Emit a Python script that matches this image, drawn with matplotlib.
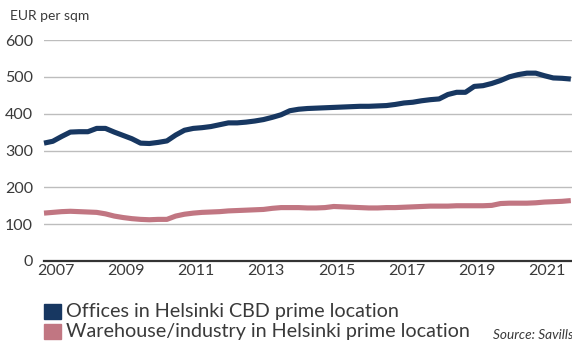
import matplotlib
matplotlib.use("Agg")
import matplotlib.pyplot as plt
from matplotlib.patches import Rectangle

# ---- data (quarterly, 2007 Q1 .. 2022 Q1) ----
offices = [320, 325, 338, 350, 351, 351, 360, 360, 350, 341, 332, 320, 319, 322, 326, 342,
           355, 360, 362, 365, 370, 375, 375, 377, 380, 384, 390, 397, 408, 412, 414, 415,
           416, 417, 418, 419, 420, 420, 421, 422, 425, 429, 431, 435, 438, 440, 452, 458,
           458, 474, 476, 482, 490, 500, 506, 510, 510, 503, 497, 496, 494]
warehouse = [130, 132, 134, 135, 134, 133, 132, 128, 122, 118, 115, 113, 112, 113, 113, 122,
             127, 130, 132, 133, 134, 136, 137, 138, 139, 140, 143, 145, 145, 145, 144, 144,
             145, 148, 147, 146, 145, 144, 144, 145, 145, 146, 147, 148, 149, 149, 149, 150,
             150, 150, 150, 151, 156, 157, 157, 157, 158, 160, 161, 162, 164]
year_labels = ["2007", "2009", "2011", "2013", "2015", "2017", "2019", "2021"]
y_ticks = [0, 100, 200, 300, 400, 500, 600]
series_labels = ["Offices in Helsinki CBD prime location",
                 "Warehouse/industry in Helsinki prime location"]
colors = ["#173761", "#c17682"]
unit_label = "EUR per sqm"
source_label = "Source: Savills"

plt.rcParams['font.family'] = ['Lato', 'DejaVu Sans']
TXT = "#3a3a3a"

W, H = 572, 343
fig = plt.figure(figsize=(W / 100, H / 100), dpi=100)

def fx(px):
    return px / W

def fy(py):
    return 1 - py / H

left, right, top, bottom = 44, 572, 40, 261
ax = fig.add_axes([fx(left), fy(bottom), fx(right - left), (bottom - top) / H])

xs = list(range(len(offices)))
for vals, c in zip([offices, warehouse], colors):
    ax.plot(xs, vals, color=c, lw=3.7, solid_joinstyle='round', solid_capstyle='butt',
            clip_on=False, zorder=3)

ax.set_ylim(0, 600)
ax.set_xlim(0, (right - left) / 8.78)
ax.set_yticks(y_ticks)
ax.set_yticklabels([str(v) for v in y_ticks])
ax.set_xticks([1.3 + 8 * k for k in range(len(year_labels))])
ax.set_xticklabels(year_labels)
ax.tick_params(axis='both', length=0, labelsize=11.5, colors=TXT)
ax.tick_params(axis='y', pad=8)
ax.tick_params(axis='x', pad=2)
ax.grid(axis='y', color='#bdbdbd', lw=1.0)
ax.set_axisbelow(True)
for s in ['top', 'right', 'left']:
    ax.spines[s].set_visible(False)
ax.spines['bottom'].set_color('#333333')
ax.spines['bottom'].set_linewidth(1.6)

fig.text(fx(10), fy(16), unit_label, fontsize=10, color=TXT, va='center', ha='left')

# legend
row_y = [311.5, 331]
for lab, c, yc in zip(series_labels, colors, row_y):
    fig.patches.append(Rectangle((fx(44), fy(yc + 7.5)), 17 / W, 15 / H,
                                 transform=fig.transFigure, color=c, figure=fig))
    fig.text(fx(66), fy(yc), lab, fontsize=14.2, color=TXT, va='center', ha='left')

fig.text(fx(493), fy(335), source_label, fontsize=9.8, color=TXT, style='italic',
         va='center', ha='left')

fig.savefig("out.png", dpi=100)
